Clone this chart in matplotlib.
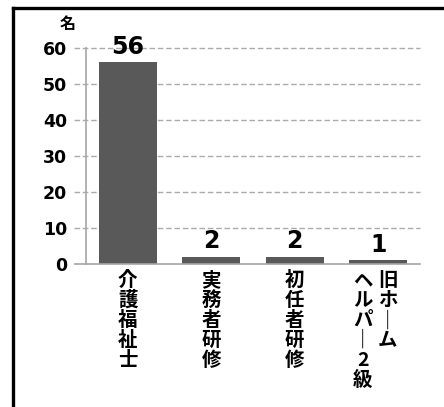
import matplotlib
matplotlib.use("Agg")
import matplotlib.pyplot as plt
from matplotlib.lines import Line2D

plt.rcParams['font.family'] = ['Noto Sans CJK JP', 'DejaVu Sans']

# Data
categories = ["介護福祉士", "実務者研修", "初任者研修", "旧ホームヘルパー2級"]
values = [56, 2, 2, 1]
# Vertical label columns (right-to-left order within a label)
label_columns = [
    ["介護福祉士"],
    ["実務者研修"],
    ["初任者研修"],
    ["旧ホ｜ム", "ヘルパ｜2級"],
]
yticks = [0, 10, 20, 30, 40, 50, 60]
unit_label = "名"

W, H, DPI = 444, 407, 100
fig = plt.figure(figsize=(W / DPI, H / DPI), dpi=DPI)
fig.patch.set_facecolor("white")

# axes area in pixel terms
left, right, top, bottom = 86, 420, 48, 264
ax = fig.add_axes([left / W, 1 - bottom / H, (right - left) / W, (bottom - top) / H])

x = list(range(len(values)))
ax.bar(x, values, width=0.7, color="#595959", zorder=3)
ax.set_xlim(-0.5, len(values) - 0.5)
ax.set_ylim(0, 60)

# spines
for s in ["top", "right"]:
    ax.spines[s].set_visible(False)
for s in ["left", "bottom"]:
    ax.spines[s].set_color("#a6a6a6")
    ax.spines[s].set_linewidth(1.2)
ax.spines["bottom"].set_zorder(4)

# dashed grid lines extending left through the tick area
tick_px = 12
ext = tick_px / (right - left)
ax.hlines([t for t in yticks if t > 0], -ext, 1, transform=ax.get_yaxis_transform(),
          colors="#ababab", linestyles=(0, (4, 2)), linewidth=1.0, clip_on=False, zorder=1)
ax.hlines([0], -ext, 0, transform=ax.get_yaxis_transform(),
          colors="#a6a6a6", linewidth=1.2, clip_on=False, zorder=1)

ax.set_yticks(yticks)
ax.set_yticklabels([str(t) for t in yticks], fontfamily="DejaVu Sans",
                   fontweight="bold", fontsize=12.5)
ax.tick_params(axis="y", length=0, pad=tick_px * 0.72 + 5)
ax.set_xticks([])

# unit label
ax.annotate(unit_label, xy=(0, 1), xycoords="axes fraction", xytext=(-13, 17),
            textcoords="offset points", ha="center", va="center",
            fontsize=11.5, fontweight="bold")

# value labels
for xi, v in zip(x, values):
    ax.annotate(str(v), xy=(xi, v), xytext=(0, 6), textcoords="offset points",
                ha="center", va="baseline", fontfamily="DejaVu Sans",
                fontweight="bold", fontsize=17, color="black")

# vertical category labels
col_gap = 25 * 0.72
for xi, cols in zip(x, label_columns):
    n = len(cols)
    for j, col in enumerate(cols):
        # first column sits on the right
        off = ((n - 1) / 2 - j) * col_gap - (3 * 0.72 if n > 1 else 0)
        ax.annotate("\n".join(col), xy=(xi, 0), xycoords=("data", "axes fraction"),
                    xytext=(off, -5), textcoords="offset points",
                    ha="center", va="top", fontsize=14, fontweight="bold",
                    linespacing=1.06, multialignment="center")

# outer frame (top and left edges)
fig.add_artist(Line2D([13 / W, 13 / W], [0, 1 - 8 / H], transform=fig.transFigure,
                      color="black", linewidth=2.4))
fig.add_artist(Line2D([13 / W, 1], [1 - 8 / H, 1 - 8 / H], transform=fig.transFigure,
                      color="black", linewidth=2.4))

fig.savefig("out.png", dpi=DPI, facecolor="white")
